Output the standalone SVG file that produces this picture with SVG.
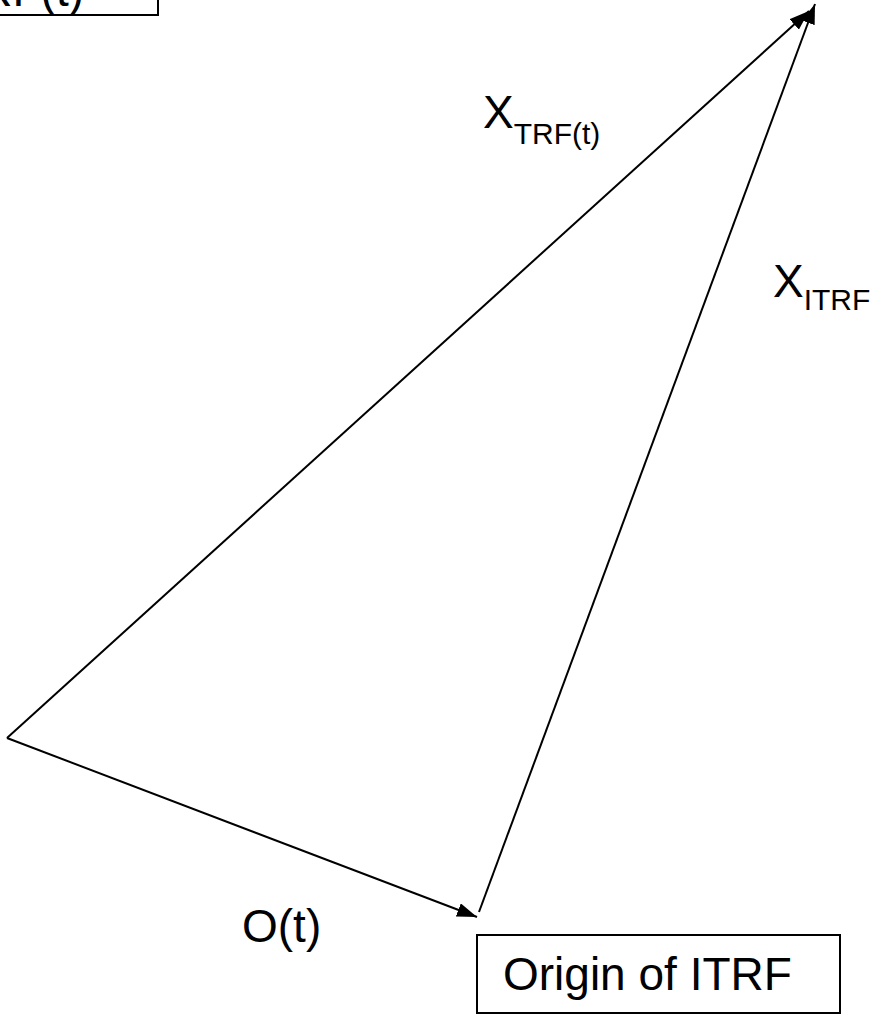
<svg xmlns="http://www.w3.org/2000/svg" width="882" height="1015" viewBox="0 0 882 1015">
<style>
.t{font-family:"Liberation Sans",Arial,sans-serif;fill:#000}
.big{font-size:46px}
.sub{font-size:30px}
.box{fill:#fff;stroke:#000;stroke-width:2}
.ln{stroke:#000;stroke-width:2;fill:none}
</style>
<defs>
<marker id="ah" markerUnits="userSpaceOnUse" markerWidth="22" markerHeight="14" refX="20" refY="7" orient="auto">
<path d="M0,0 L20,7 L0,14 z" fill="#000"/>
</marker>
</defs>
<rect width="882" height="1015" fill="#fff"/>
<g id="connectors">
<line class="ln" x1="7" y1="738" x2="809" y2="11" marker-end="url(#ah)"/>
<line class="ln" x1="479" y1="912" x2="815" y2="4" marker-end="url(#ah)"/>
<line class="ln" x1="7" y1="738" x2="477" y2="917" marker-end="url(#ah)"/>
</g>
<g id="node-trf">
<rect class="box" x="-200" y="-60" width="358" height="75"/>
<text class="t big" x="84" y="6" text-anchor="end">Origin of TRF(t)</text>
</g>
<g id="node-itrf">
<rect class="box" x="477" y="935" width="363" height="78"/>
<text class="t big" x="503" y="990">Origin of ITRF</text>
</g>
<g id="label-xtrf">
<text class="t big" x="483" y="128">X<tspan class="sub" dy="16">TRF(t)</tspan></text>
</g>
<g id="label-xitrf">
<text class="t big" x="773" y="297">X<tspan class="sub" dy="13">ITRF</tspan></text>
</g>
<g id="label-o">
<text class="t big" x="242" y="942">O(t)</text>
</g>
</svg>
